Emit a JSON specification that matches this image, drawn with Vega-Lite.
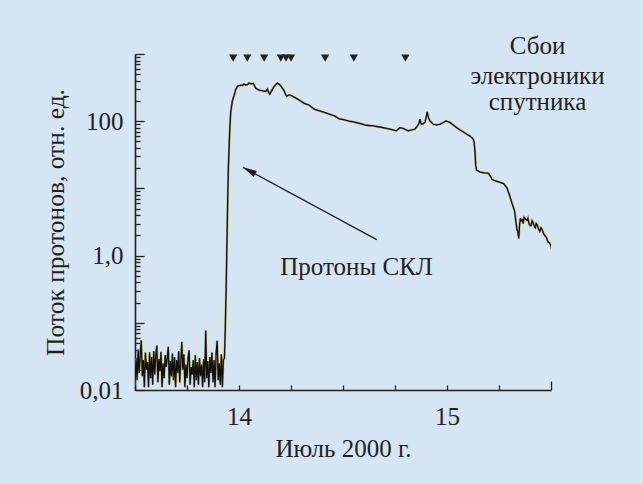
{
  "$schema": "https://vega.github.io/schema/vega-lite/v6.json",
  "width": 416,
  "height": 336,
  "autosize": {"type": "none"},
  "padding": {"left": 135, "top": 54, "right": 92, "bottom": 94},
  "background": "#d6e5f4",
  "config": {"view": {"stroke": null}, "font": "Liberation Serif"},
  "datasets": {
    "flux": [
      {"d": 13.500, "v": 0.012}, {"d": 13.505, "v": 0.030}, {"d": 13.510, "v": 0.014}, {"d": 13.515, "v": 0.040},
      {"d": 13.520, "v": 0.018}, {"d": 13.525, "v": 0.033}, {"d": 13.530, "v": 0.055}, {"d": 13.535, "v": 0.016},
      {"d": 13.540, "v": 0.028}, {"d": 13.545, "v": 0.011}, {"d": 13.550, "v": 0.036}, {"d": 13.555, "v": 0.020},
      {"d": 13.560, "v": 0.026}, {"d": 13.565, "v": 0.011}, {"d": 13.570, "v": 0.036}, {"d": 13.575, "v": 0.015},
      {"d": 13.580, "v": 0.031}, {"d": 13.585, "v": 0.012}, {"d": 13.590, "v": 0.038}, {"d": 13.595, "v": 0.017},
      {"d": 13.600, "v": 0.034}, {"d": 13.605, "v": 0.046}, {"d": 13.610, "v": 0.013}, {"d": 13.615, "v": 0.029},
      {"d": 13.620, "v": 0.019}, {"d": 13.625, "v": 0.037}, {"d": 13.630, "v": 0.011}, {"d": 13.635, "v": 0.025},
      {"d": 13.640, "v": 0.015}, {"d": 13.645, "v": 0.033}, {"d": 13.650, "v": 0.022}, {"d": 13.655, "v": 0.030},
      {"d": 13.660, "v": 0.044}, {"d": 13.665, "v": 0.012}, {"d": 13.670, "v": 0.027}, {"d": 13.675, "v": 0.016},
      {"d": 13.680, "v": 0.035}, {"d": 13.685, "v": 0.014}, {"d": 13.690, "v": 0.031}, {"d": 13.695, "v": 0.011},
      {"d": 13.700, "v": 0.028}, {"d": 13.705, "v": 0.018}, {"d": 13.710, "v": 0.038}, {"d": 13.715, "v": 0.013},
      {"d": 13.720, "v": 0.026}, {"d": 13.725, "v": 0.052}, {"d": 13.730, "v": 0.020}, {"d": 13.735, "v": 0.034},
      {"d": 13.740, "v": 0.011}, {"d": 13.745, "v": 0.024}, {"d": 13.750, "v": 0.015}, {"d": 13.755, "v": 0.030},
      {"d": 13.760, "v": 0.039}, {"d": 13.765, "v": 0.012}, {"d": 13.770, "v": 0.022}, {"d": 13.775, "v": 0.017},
      {"d": 13.780, "v": 0.028}, {"d": 13.785, "v": 0.011}, {"d": 13.790, "v": 0.033}, {"d": 13.795, "v": 0.014},
      {"d": 13.800, "v": 0.026}, {"d": 13.805, "v": 0.012}, {"d": 13.810, "v": 0.030}, {"d": 13.815, "v": 0.016},
      {"d": 13.820, "v": 0.024}, {"d": 13.825, "v": 0.011}, {"d": 13.830, "v": 0.029}, {"d": 13.835, "v": 0.013},
      {"d": 13.840, "v": 0.077}, {"d": 13.845, "v": 0.015}, {"d": 13.850, "v": 0.027}, {"d": 13.855, "v": 0.011},
      {"d": 13.860, "v": 0.031}, {"d": 13.865, "v": 0.018}, {"d": 13.870, "v": 0.036}, {"d": 13.875, "v": 0.013},
      {"d": 13.880, "v": 0.028}, {"d": 13.885, "v": 0.011}, {"d": 13.890, "v": 0.036}, {"d": 13.895, "v": 0.054},
      {"d": 13.900, "v": 0.014}, {"d": 13.905, "v": 0.025}, {"d": 13.910, "v": 0.012}, {"d": 13.915, "v": 0.034},
      {"d": 13.920, "v": 0.011}, {"d": 13.925, "v": 0.028},
      {"d": 13.930, "v": 0.03}, {"d": 13.934, "v": 0.08}, {"d": 13.938, "v": 0.3}, {"d": 13.941, "v": 1.0},
      {"d": 13.945, "v": 5}, {"d": 13.949, "v": 21}, {"d": 13.952, "v": 38}, {"d": 13.956, "v": 80},
      {"d": 13.960, "v": 135}, {"d": 13.968, "v": 200}, {"d": 13.976, "v": 239}, {"d": 13.984, "v": 295},
      {"d": 13.992, "v": 330}, {"d": 14.008, "v": 344}, {"d": 14.016, "v": 340}, {"d": 14.024, "v": 356},
      {"d": 14.032, "v": 345}, {"d": 14.040, "v": 350}, {"d": 14.048, "v": 369}, {"d": 14.058, "v": 360},
      {"d": 14.069, "v": 365}, {"d": 14.075, "v": 335}, {"d": 14.081, "v": 308}, {"d": 14.097, "v": 290},
      {"d": 14.115, "v": 282}, {"d": 14.129, "v": 277}, {"d": 14.137, "v": 300}, {"d": 14.142, "v": 270},
      {"d": 14.148, "v": 253}, {"d": 14.157, "v": 285}, {"d": 14.166, "v": 318}, {"d": 14.175, "v": 345},
      {"d": 14.185, "v": 369}, {"d": 14.193, "v": 355}, {"d": 14.201, "v": 336}, {"d": 14.210, "v": 305},
      {"d": 14.217, "v": 283}, {"d": 14.224, "v": 250}, {"d": 14.230, "v": 234}, {"d": 14.238, "v": 245},
      {"d": 14.246, "v": 245}, {"d": 14.265, "v": 228}, {"d": 14.282, "v": 213}, {"d": 14.298, "v": 198},
      {"d": 14.314, "v": 184}, {"d": 14.338, "v": 173}, {"d": 14.362, "v": 151}, {"d": 14.386, "v": 143},
      {"d": 14.411, "v": 135}, {"d": 14.435, "v": 127}, {"d": 14.459, "v": 120}, {"d": 14.483, "v": 108},
      {"d": 14.507, "v": 105}, {"d": 14.530, "v": 100}, {"d": 14.556, "v": 97}, {"d": 14.584, "v": 92},
      {"d": 14.612, "v": 87}, {"d": 14.645, "v": 85}, {"d": 14.676, "v": 82}, {"d": 14.710, "v": 78},
      {"d": 14.741, "v": 74}, {"d": 14.757, "v": 72}, {"d": 14.773, "v": 80}, {"d": 14.789, "v": 78},
      {"d": 14.813, "v": 72}, {"d": 14.830, "v": 74}, {"d": 14.845, "v": 76}, {"d": 14.861, "v": 87},
      {"d": 14.866, "v": 95}, {"d": 14.870, "v": 107}, {"d": 14.874, "v": 95}, {"d": 14.878, "v": 90},
      {"d": 14.886, "v": 92}, {"d": 14.894, "v": 96}, {"d": 14.900, "v": 115}, {"d": 14.905, "v": 138},
      {"d": 14.910, "v": 115}, {"d": 14.918, "v": 101}, {"d": 14.934, "v": 90}, {"d": 14.950, "v": 88},
      {"d": 14.966, "v": 90}, {"d": 14.980, "v": 95}, {"d": 14.995, "v": 101}, {"d": 15.014, "v": 96},
      {"d": 15.030, "v": 88}, {"d": 15.047, "v": 80}, {"d": 15.063, "v": 74}, {"d": 15.079, "v": 69},
      {"d": 15.095, "v": 64}, {"d": 15.111, "v": 60}, {"d": 15.124, "v": 55}, {"d": 15.130, "v": 50},
      {"d": 15.135, "v": 34}, {"d": 15.138, "v": 22}, {"d": 15.142, "v": 18.7}, {"d": 15.159, "v": 17.5},
      {"d": 15.180, "v": 17.0}, {"d": 15.200, "v": 16.7}, {"d": 15.210, "v": 15}, {"d": 15.216, "v": 13.7},
      {"d": 15.230, "v": 13.0}, {"d": 15.248, "v": 12.5}, {"d": 15.272, "v": 11.8}, {"d": 15.288, "v": 10.2},
      {"d": 15.300, "v": 8}, {"d": 15.312, "v": 6.1}, {"d": 15.325, "v": 4.6}, {"d": 15.333, "v": 2.9},
      {"d": 15.337, "v": 2.4}, {"d": 15.340, "v": 2.3}, {"d": 15.345, "v": 1.8}, {"d": 15.349, "v": 2.9},
      {"d": 15.353, "v": 3.6}, {"d": 15.357, "v": 3.3}, {"d": 15.362, "v": 3.4}, {"d": 15.366, "v": 3.0},
      {"d": 15.371, "v": 3.7}, {"d": 15.377, "v": 3.5}, {"d": 15.385, "v": 3.35}, {"d": 15.389, "v": 3.6},
      {"d": 15.393, "v": 3.1}, {"d": 15.399, "v": 2.8}, {"d": 15.404, "v": 2.8}, {"d": 15.409, "v": 3.3},
      {"d": 15.414, "v": 3.1}, {"d": 15.420, "v": 2.7}, {"d": 15.425, "v": 2.6}, {"d": 15.429, "v": 3.0},
      {"d": 15.433, "v": 2.9}, {"d": 15.440, "v": 2.5}, {"d": 15.446, "v": 2.3}, {"d": 15.452, "v": 2.6},
      {"d": 15.457, "v": 2.45}, {"d": 15.465, "v": 2.1}, {"d": 15.473, "v": 1.95}, {"d": 15.480, "v": 1.8},
      {"d": 15.485, "v": 1.6}, {"d": 15.492, "v": 1.55}, {"d": 15.498, "v": 1.45}, {"d": 15.505, "v": 1.2}
    ],
    "failures": [
      {"d": 13.972, "v": 870}, {"d": 14.040, "v": 870}, {"d": 14.121, "v": 870},
      {"d": 14.201, "v": 870}, {"d": 14.226, "v": 870}, {"d": 14.250, "v": 870},
      {"d": 14.414, "v": 870}, {"d": 14.552, "v": 870}, {"d": 14.800, "v": 870}
    ],
    "arrow": [{"d": 14.662, "v": 1.73, "d2": 14.019, "v2": 20.6}],
    "labels": [
      {"d": 15.435, "v": 1315, "t": "Сбои"},
      {"d": 15.435, "v": 470, "t": "электроники"},
      {"d": 15.435, "v": 192, "t": "спутника"},
      {"d": 14.565, "v": 0.686, "t": "Протоны СКЛ"}
    ]
  },
  "layer": [
    {
      "data": {"name": "flux"},
      "mark": {"type": "line", "color": "#b4b06a", "strokeWidth": 2.2, "clip": true},
      "encoding": {
        "x": {"field": "d", "type": "quantitative", "scale": {"domain": [13.5, 15.5], "nice": false, "zero": false},
          "axis": {
            "title": "Июль 2000 г.",
            "values": [13.5, 13.625, 13.75, 13.875, 14, 14.125, 14.25, 14.375, 14.5, 14.625, 14.75, 14.875, 15, 15.125, 15.25, 15.375, 15.5],
            "labelExpr": "datum.value == 14 ? '14' : datum.value == 15 ? '15' : ''",
            "labelOverlap": false,
            "labelFlush": false,
            "grid": false,
            "tickSize": {"condition": {"test": "datum.value == 15.5", "value": -9}, "value": -5},
            "tickColor": "#231f20",
            "tickWidth": 1.3,
            "domainColor": "#231f20",
            "domainWidth": 1.6,
            "labelFont": "Liberation Serif",
            "labelFontSize": 25,
            "labelColor": "#231f20",
            "labelPadding": 19,
            "titleFont": "Liberation Serif",
            "titleFontSize": 25,
            "titleFontWeight": "normal",
            "titleColor": "#231f20",
            "titleY": 58,
            "titleBaseline": "middle"
          }
        },
        "y": {"field": "v", "type": "quantitative", "scale": {"type": "log", "domain": [0.01, 1000], "nice": false},
          "axis": {
            "title": "Поток протонов, отн. ед.",
            "values": [0.01, 0.02, 0.03, 0.04, 0.05, 0.06, 0.07, 0.08, 0.09, 0.1, 0.2, 0.3, 0.4, 0.5, 0.6, 0.7, 0.8, 0.9, 1, 2, 3, 4, 5, 6, 7, 8, 9, 10, 20, 30, 40, 50, 60, 70, 80, 90, 100, 200, 300, 400, 500, 600, 700, 800, 900, 1000],
            "labelExpr": "datum.value == 0.01 ? '0,01' : datum.value == 1 ? '1,0' : datum.value == 100 ? '100' : ''",
            "labelOverlap": false,
            "labelFlush": false,
            "grid": false,
            "tickSize": {"condition": {"test": "abs(log(datum.value)/LN10 - round(log(datum.value)/LN10)) < 0.01", "value": -9}, "value": -5},
            "tickColor": "#231f20",
            "tickWidth": 1.3,
            "domainColor": "#231f20",
            "domainWidth": 1.6,
            "labelFont": "Liberation Serif",
            "labelFontSize": 25,
            "labelColor": "#231f20",
            "labelPadding": 21,
            "titleFont": "Liberation Serif",
            "titleFontSize": 25.5,
            "titleFontWeight": "normal",
            "titleColor": "#231f20",
            "titleX": -80,
            "titleY": 168,
            "titleBaseline": "middle"
          }
        }
      }
    },
    {
      "data": {"name": "flux"},
      "mark": {"type": "line", "color": "#111111", "strokeWidth": 1.3, "clip": true},
      "encoding": {
        "x": {"field": "d", "type": "quantitative"},
        "y": {"field": "v", "type": "quantitative"}
      }
    },
    {
      "data": {"name": "failures"},
      "mark": {"type": "point", "shape": "triangle-down", "filled": true, "color": "#231f20", "size": 68, "opacity": 1},
      "encoding": {
        "x": {"field": "d", "type": "quantitative"},
        "y": {"field": "v", "type": "quantitative"}
      }
    },
    {
      "data": {"name": "arrow"},
      "mark": {"type": "rule", "color": "#231f20", "strokeWidth": 1.3},
      "encoding": {
        "x": {"field": "d", "type": "quantitative"},
        "y": {"field": "v", "type": "quantitative"},
        "x2": {"field": "d2"},
        "y2": {"field": "v2"}
      }
    },
    {
      "data": {"name": "arrow"},
      "mark": {"type": "point", "shape": "M0,0L0.5,2L-0.5,2Z", "filled": true, "color": "#231f20", "size": 196, "angle": 298.4, "opacity": 1},
      "encoding": {
        "x": {"field": "d2", "type": "quantitative"},
        "y": {"field": "v2", "type": "quantitative"}
      }
    },
    {
      "data": {"name": "labels"},
      "mark": {"type": "text", "font": "Liberation Serif", "fontSize": 25, "color": "#231f20", "align": "center", "baseline": "middle"},
      "encoding": {
        "x": {"field": "d", "type": "quantitative"},
        "y": {"field": "v", "type": "quantitative"},
        "text": {"field": "t"}
      }
    }
  ]
}
